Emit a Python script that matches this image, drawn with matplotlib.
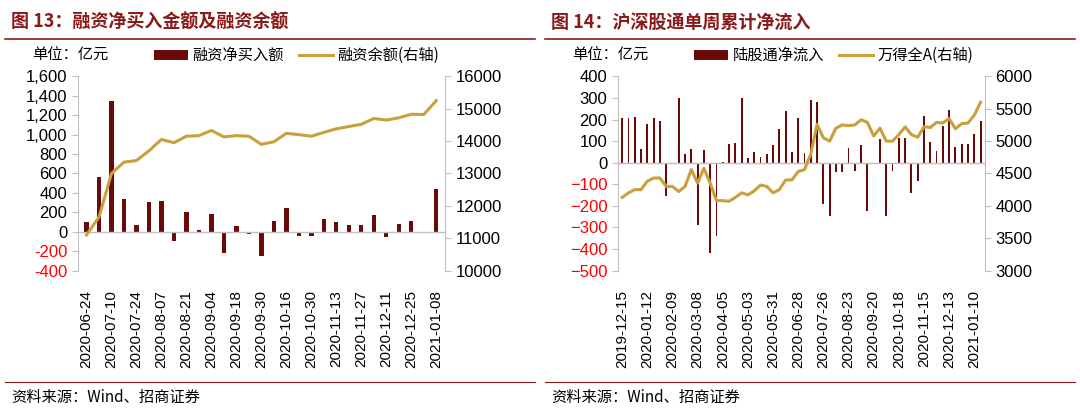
import matplotlib.pyplot as plt
from matplotlib.lines import Line2D
import numpy as np

plt.rcParams['font.family'] = ['Liberation Sans', 'Noto Sans CJK SC']

# left chart: margin financing
l_dates = ['2020-06-24', '2020-07-10', '2020-07-24', '2020-08-07', '2020-08-21', '2020-09-04',
           '2020-09-18', '2020-09-30', '2020-10-16', '2020-10-30', '2020-11-13', '2020-11-27',
           '2020-12-11', '2020-12-25', '2021-01-08']
l_bars = [95, 565, 1345, 335, 65, 310, 315, -100, 200, 15, 180, -220, 55, -25, -255,
          110, 245, -40, -45, 135, 105, 65, 70, 170, -50, 75, 110, -15, 445]
l_line = [11100, 11650, 13000, 13350, 13400, 13700, 14050, 13950, 14150, 14170, 14330, 14130,
          14170, 14150, 13900, 13980, 14240, 14200, 14150, 14270, 14380, 14450, 14520, 14700,
          14650, 14720, 14830, 14820, 15250]

# right chart: northbound flow
r_dates = ['2019-12-15', '2020-01-12', '2020-02-09', '2020-03-08', '2020-04-05', '2020-05-03',
           '2020-05-31', '2020-06-28', '2020-07-26', '2020-08-23', '2020-09-20', '2020-10-18',
           '2020-11-15', '2020-12-13', '2021-01-10']
r_bars = [205, 205, 210, 65, 180, 205, 195, -155, 0, 300, 40, 65, -290, 60, -420, -340, 5, 85,
          90, 300, 20, 50, 25, 40, 80, 155, 240, 50, 205, 45, 290, 280, -190, -245, -45, -45,
          70, -40, 80, -225, 0, 110, -245, -40, 115, 115, -140, -85, 215, 95, 55, 170, 245, 75,
          85, 85, 135, 195]
r_line = [4130, 4200, 4250, 4250, 4380, 4430, 4430, 4300, 4300, 4220, 4300, 4560, 4350, 4580,
          4350, 4080, 4080, 4070, 4130, 4200, 4170, 4230, 4320, 4300, 4200, 4250, 4400, 4400,
          4530, 4560, 4800, 5260, 5050, 5000, 5200, 5250, 5240, 5250, 5330, 5290, 5080, 5200,
          5000, 5000, 5100, 5220, 5100, 5060, 5220, 5210, 5290, 5280, 5350, 5190, 5270, 5280,
          5400, 5600]

BAR = '#6b0a0a'
GOLD = '#c9a03c'
TITLE = '#8b1a1a'
GRAY = '#bfbfbf'

fig = plt.figure(figsize=(10.8, 4.13), dpi=100)


def panel(x0, title, dates, bars, line, yl, yr, bar_lab, line_lab, step, bw):
    # title and rules
    fig.text(x0 + 0.005, 0.945, title, fontsize=13, fontweight='bold', color=TITLE,
             family='Noto Sans CJK SC', va='center')
    fig.add_artist(Line2D([x0, x0 + 0.49], [0.905, 0.905], color=TITLE, lw=1.2))
    fig.add_artist(Line2D([x0, x0 + 0.49], [0.075, 0.075], color=TITLE, lw=0.8))
    fig.text(x0 + 0.005, 0.038, '资料来源：Wind、招商证券', fontsize=11,
             family='Noto Sans CJK SC', va='center')

    ax = fig.add_axes([x0 + 0.067, 0.345, 0.34, 0.47])
    x = np.arange(len(bars))
    ax.bar(x, bars, width=bw, color=BAR, label=bar_lab)
    ax.set_ylim(*yl[:2])
    ax.set_yticks(np.arange(yl[0], yl[1] + 1, yl[2]))
    ax.set_xlim(-0.7, len(bars) - 0.3)
    ax.axhline(0, color=GRAY, lw=1)
    ax.set_xticks(np.arange(0, len(bars), step)[:len(dates)])
    ax.set_xticklabels(dates, rotation=90, fontsize=11)
    ax.tick_params(axis='x', length=0, pad=14)
    ax.tick_params(axis='y', labelsize=12, length=4, color=GRAY)
    for s in ['top', 'right', 'bottom']:
        ax.spines[s].set_visible(False)
    ax.spines['left'].set_color(GRAY)
    for t, v in zip(ax.get_yticklabels(), ax.get_yticks()):
        if v < 0:
            t.set_color('red')
    if yl[2] >= 200:
        ax.yaxis.set_major_formatter(plt.FuncFormatter(lambda v, p: f'{int(v):,}'))

    ax2 = ax.twinx()
    ax2.plot(x, line, color=GOLD, lw=2.2, label=line_lab)
    ax2.set_ylim(*yr[:2])
    ax2.set_yticks(np.arange(yr[0], yr[1] + 1, yr[2]))
    ax2.tick_params(axis='y', labelsize=12, length=4, color=GRAY)
    for s in ['top', 'left', 'bottom']:
        ax2.spines[s].set_visible(False)
    ax2.spines['right'].set_color(GRAY)

    fig.text(x0 + 0.025, 0.865, '单位：亿元', fontsize=11, family='Noto Sans CJK SC', va='center')
    h1, l1 = ax.get_legend_handles_labels()
    h2, l2 = ax2.get_legend_handles_labels()
    fig.legend(h1 + h2, l1 + l2, loc='center left', bbox_to_anchor=(x0 + 0.125, 0.865),
               ncol=2, frameon=False, prop={'family': 'Noto Sans CJK SC', 'size': 11},
               handlelength=2.2, handletextpad=0.3, columnspacing=1.0)


panel(0.005, '图 13：融资净买入金额及融资余额', l_dates, l_bars, l_line,
      (-400, 1600, 200), (10000, 16000, 1000), '融资净买入额', '融资余额(右轴)', 2, 0.35)
panel(0.505, '图 14：沪深股通单周累计净流入', r_dates, r_bars, r_line,
      (-500, 400, 100), (3000, 6000, 500), '陆股通净流入', '万得全A(右轴)', 4, 0.3)

fig.savefig('out.png', dpi=100)
